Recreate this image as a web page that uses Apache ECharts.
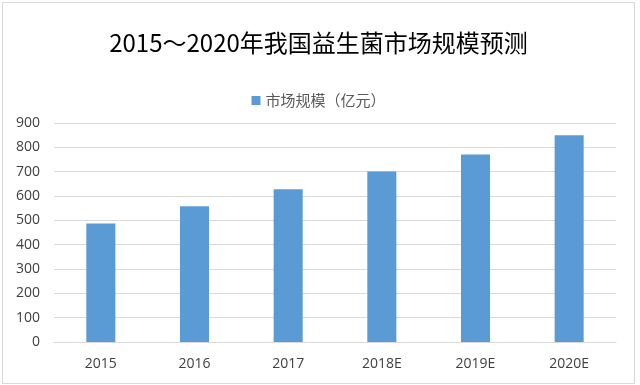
<!DOCTYPE html>
<html><head><meta charset="utf-8">
<script src="https://cdn.jsdelivr.net/npm/echarts@6/dist/echarts.min.js"></script>
<style>
html,body{margin:0;padding:0;background:#fff;}
#c{position:absolute;left:2px;top:2px;width:633px;height:382px;border:1px solid #d9d9d9;box-sizing:border-box;}
</style></head><body>
<div id="c"></div>
<script>
const categories = ['2015','2016','2017','2018E','2019E','2020E'];
const seriesName = '市场规模（亿元）';
const values = [487, 558, 628, 701, 771, 850];
const yTicks = [0, 100, 200, 300, 400, 500, 600, 700, 800, 900];

const chart = echarts.init(document.getElementById('c'));
chart.setOption({
  animation: false,
  title: {
    text: '2015～2020年我国益生菌市场规模预测',
    left: 'center', top: 23,
    textStyle: {fontSize: 24, fontWeight: 'normal', color: '#000', fontFamily: 'Noto Sans CJK SC'}
  },
  legend: {
    data: [seriesName], top: 85, left: 'center',
    itemWidth: 9, itemHeight: 9, itemGap: 5,
    icon: 'rect',
    textStyle: {fontSize: 15, color: '#595959', fontFamily: 'Noto Sans CJK SC'}
  },
  grid: {left: 51, right: 18, top: 120, bottom: 41},
  xAxis: {
    type: 'category', data: categories,
    axisLine: {lineStyle: {color: '#d9d9d9'}},
    axisTick: {show: false},
    axisLabel: {fontSize: 14, color: '#404040', margin: 15, fontFamily: 'Open Sans'}
  },
  yAxis: {
    type: 'value', min: yTicks[0], max: yTicks[yTicks.length-1], interval: 100,
    axisLine: {show: false}, axisTick: {show: false},
    splitLine: {lineStyle: {color: '#d9d9d9'}},
    axisLabel: {fontSize: 14, color: '#404040', margin: 14, fontFamily: 'Open Sans'}
  },
  series: [{
    name: seriesName, type: 'bar', data: values,
    barWidth: '31%',
    itemStyle: {color: '#5b9bd5'}
  }]
});
</script>
</body></html>
